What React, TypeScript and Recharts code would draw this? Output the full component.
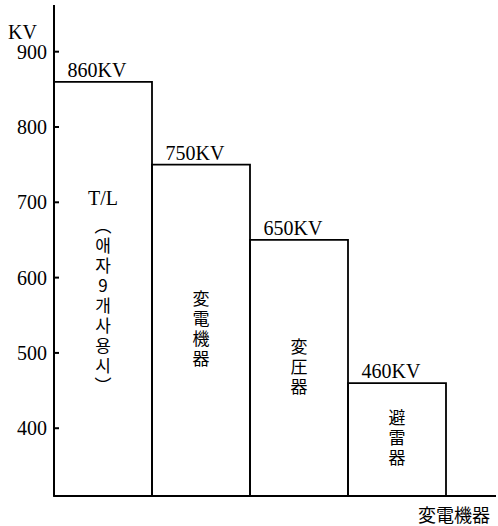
import { BarChart, Bar, XAxis, YAxis, LabelList } from 'recharts';

const categories = ['T/L', '変電機器', '変圧器', '避雷器'];
const voltages = [860, 750, 650, 460];
const innerTitle = ['T/L', '', '', ''];
const innerText = ['（애자9개사용시）', '変電機器', '変圧器', '避雷器'];
const yTicks = [400, 500, 600, 700, 800, 900];

const data = categories.map((name, i) => ({ name, value: voltages[i] }));

const serif = '"Liberation Serif", "Noto Sans CJK JP", serif';
const cjk = '"Noto Sans CJK JP", "Noto Sans CJK KR", sans-serif';

function InnerLabel(props: any) {
    const { x, y, width, height, value } = props;
    const idx = categories.indexOf(value);
    if (idx < 0) return null;
    const title = innerTitle[idx];
    const text = innerText[idx];
    const cx = Number(x) + Number(width) / 2;
    const titleSize = title ? 36 : 0;
    const total = titleSize + text.length * 20;
    const top = Number(y) + Number(height) / 2 - total / 2;
    return (
        <g>
            {title && (
                <text x={cx} y={top + 17} textAnchor="middle" dominantBaseline="central" fontFamily={serif} fontSize={20} fill="#000">
                    {title}
                </text>
            )}
            <text
                x={cx}
                y={top + titleSize + (text.length * 20) / 2}
                textAnchor="middle"
                fontFamily={cjk}
                fontSize={17}
                letterSpacing={3}
                fill="#000"
                style={{ writingMode: 'vertical-rl', textOrientation: 'upright' } as any}
            >
                {text}
            </text>
        </g>
    );
}

function YTick(props: any) {
    const x = Number(props.x);
    const y = Number(props.y);
    return (
        <g>
            <line x1={x + 7} x2={x + 12} y1={y} y2={y} stroke="#000" strokeWidth={2} />
            <text x={x} y={y} textAnchor="end" dominantBaseline="central" fontFamily={serif} fontSize={20} fill="#000">
                {props.payload.value}
            </text>
        </g>
    );
}

export default function App() {
    return (
        <div style={{ position: 'absolute', left: 0, top: 0, width: 498, height: 526, background: '#fff' }}>
            <BarChart width={498} height={526} data={data} barCategoryGap={0} margin={{ top: 5, right: 2, left: 0, bottom: 0 }}>
                <XAxis
                    dataKey="name"
                    height={30}
                    tick={false}
                    tickLine={false}
                    padding={{ left: 0, right: 50 }}
                    axisLine={{ stroke: '#000', strokeWidth: 2 }}
                    label={{
                        value: '変電機器',
                        position: 'insideBottomRight',
                        offset: 4,
                        dx: -2,
                        style: { fontFamily: cjk, fontSize: 18, fill: '#000' },
                    }}
                />
                <YAxis
                    type="number"
                    domain={[310, 962]}
                    ticks={yTicks}
                    width={54}
                    tickSize={0}
                    tickMargin={7}
                    tick={<YTick />}
                    axisLine={{ stroke: '#000', strokeWidth: 2 }}
                    label={{
                        value: 'KV',
                        position: 'insideTopLeft',
                        offset: 8,
                        dy: 12,
                        style: { fontFamily: serif, fontSize: 20, fill: '#000' },
                    }}
                />
                <Bar dataKey="value" fill="none" stroke="#000" strokeWidth={1.8} isAnimationActive={false}>
                    <LabelList
                        dataKey="value"
                        position="top"
                        offset={5}
                        dx={-6}
                        style={{ fontFamily: serif, fontSize: 20, fill: '#000' }}
                        formatter={((v: unknown) => `${v}KV`) as never}
                    />
                    <LabelList dataKey="name" content={<InnerLabel />} />
                </Bar>
            </BarChart>
        </div>
    );
}
